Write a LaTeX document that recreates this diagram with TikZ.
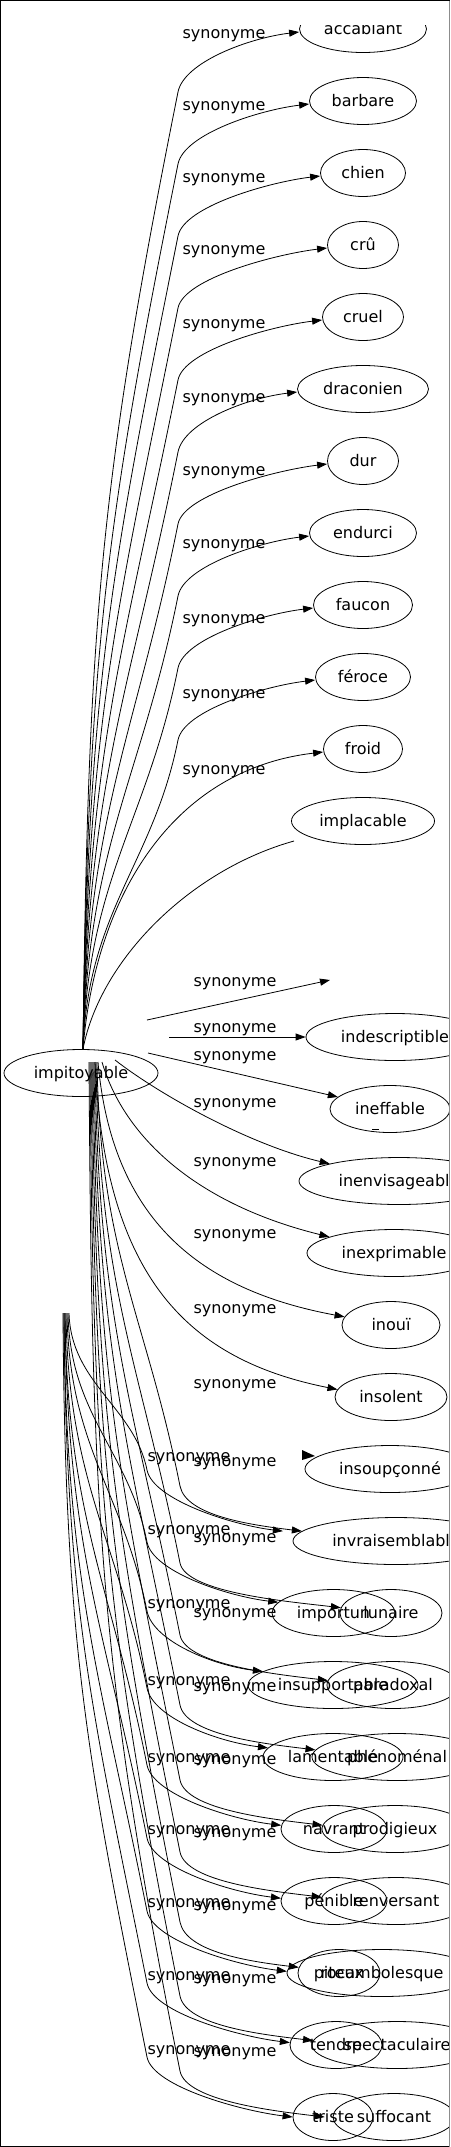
\documentclass[tikz,border=0pt]{standalone}
\usepackage{fontspec}
\setmainfont{DejaVu Sans}
\usetikzlibrary{arrows.meta,shapes.geometric}
\begin{document}
\begin{tikzpicture}[x=1pt,y=-1pt,
  every node/.style={font=\fontsize{16}{19}\selectfont, inner sep=0pt, text height=12pt, text depth=2pt},
  word/.style={draw, ellipse, line width=0.8pt, minimum height=47pt},
  edge/.style={line width=0.8pt, -{Triangle[length=10pt,width=7pt]}},
  plain/.style={line width=0.8pt}]
\useasboundingbox (0,0) rectangle (450,2147);
\fill[white] (0,0) rectangle (450,2147);
\begin{scope}
\clip (1,25) rectangle (449,2146);
% main node
\node[word, minimum width=154pt] (impitoyable) at (81,1073) {impitoyable};
% upper column
\foreach \n/\t/\y/\w in {accablant/accablant/29/127, barbare/barbare/101/107, chien/chien/173/85, cru/crû/245/71, cruel/cruel/317/81, draconien/draconien/389/131, dur/dur/461/71, endurci/endurci/533/107, faucon/faucon/605/99, feroce/féroce/677/95, froid/froid/749/79, implacable/implacable/821/143}
  \node[word, minimum width=\w pt] (\n) at (363,\y) {\t};
% lower column
\foreach \n/\t/\x/\y/\w in {indescriptible/indescriptible/395/1037/178, ineffable/ineffable/390/1109/120, inenvisageable/inenvisageable/399/1181/200, inexprimable/inexprimable/394/1253/174, inoui/inouï/391/1325/98, insolent/insolent/391/1397/112, insoupconne/insoupçonné/390/1469/170, invraisemblable/invraisemblable/396/1541/206, importun/importun/333.5/1613/123, lunaire/lunaire/391/1613/102, insupportable/insupportable/333/1685/170, paradoxal/paradoxal/393/1685/132, lamentable/lamentable/333/1757/140, phenomenal/phénoménal/397/1757/170, navrant/navrant/334/1829/106, prodigieux/prodigieux/395/1829/146, penible/pénible/334/1901/106, renversant/renversant/396/1901/150, piteux/piteux/339/1973/82, rocambolesque/rocambolesque/382/1973/190, tendre/tendre/336/2045/92, spectaculaire/spectaculaire/397/2045/170, triste/triste/333/2117/80, suffocant/suffocant/394/2117/122}
  \node[word, minimum width=\w pt] (\n) at (\x,\y) {\t};
% labels
\foreach \y [count=\i] in {33,105,177,249,323,397,470,543,618,693,769}
  \node (lu\i) at (224,\y) {synonyme};
\foreach \y [count=\i] in {981,1027,1055,1102,1161,1233,1308,1383,1461,1537,1612,1686,1759,1832,1905,1978,2051}
  \node (la\i) at (235,\y) {synonyme};
\foreach \y [count=\i] in {1456,1529,1603,1680,1757,1829,1902,1975,2049}
  \node (lb\i) at (189,\y) {synonyme};
% upper edges
\foreach \n/\yt in {accablant/32, barbare/104, chien/176, cru/248, cruel/320, draconien/392, dur/464, endurci/536, faucon/608, feroce/680}{
  \pgfmathsetmacro\ym{\yt+60}
  \pgfmathsetmacro\ca{1049-0.45*(1049-\ym)}
  \pgfmathsetmacro\cbx{178-0.08*(1049-\ym)}
  \pgfmathsetmacro\cby{\ym+0.4*(1049-\ym)}
  \draw[edge] ([xshift=2pt]impitoyable.north) .. controls (88,\ca) and (\cbx,\cby) .. (178,\ym) .. controls (184,\ym-30) and +(-50,6) .. ([yshift=-3pt]\n.west);
}
\draw[edge] ([xshift=2pt]impitoyable.north) .. controls (95,900) and (170,770) .. ([yshift=-3pt]froid.west);
\coordinate (implend) at (294,841);
\draw[plain] ([xshift=2pt]impitoyable.north) .. controls (100,960) and (190,870) .. (implend);
% straight floating edges
\coordinate (a0s) at (147,1020); \coordinate (a0e) at (330,980);
\draw[edge] (a0s) -- (a0e);
\coordinate (a1s) at (169,1037);
\draw[edge] (a1s) -- (indescriptible.west);
\coordinate (a2s) at (148,1053);
\draw[edge] (a2s) -- (ineffable.167);
\draw[plain] (372,1129) -- (379,1129);
% near lower edges
\draw[edge] ([shift={(34,-13)}]impitoyable.center) .. controls (160,1095) and (250,1145) .. (inenvisageable.166);
\draw[edge] ([shift={(21,-11)}]impitoyable.center) .. controls (125,1140) and (200,1205) .. (inexprimable.166);
\draw[edge] ([shift={(17,-11)}]impitoyable.center) .. controls (112,1220) and (200,1290) .. (inoui.170);
\draw[edge] ([shift={(14,-11)}]impitoyable.center) .. controls (105,1280) and (190,1360) .. (insolent.172);
% floating arrowhead
\fill (302,1450) -- (315,1456) -- (302,1460) -- cycle;
% group A lower edges
\coordinate (suftip) at ([xshift=-8pt]suffocant.west);
\foreach \s/\t/\yt in {97/invraisemblable.174/1531, 96/lunaire.174/1608, 95/paradoxal.176/1680, 94/phenomenal.175/1750, 93/prodigieux.177/1825, 92/renversant.177/1897, 91/piteux.172/1967, 90/spectaculaire.177/2041, 89/suftip/2116}{
  \pgfmathsetmacro\ym{\yt-45}
  \pgfmathsetmacro\L{\ym-1062}
  \pgfmathsetmacro\ca{1062+0.45*\L}
  \pgfmathsetmacro\cbx{180-0.08*\L}
  \pgfmathsetmacro\cby{\ym-0.4*\L}
  \pgfmathsetmacro\dx{\s-81}
  \draw[edge] ([shift={(\dx,-11)}]impitoyable.center) .. controls (\s+3,\ca) and (\cbx,\cby) .. (180,\ym) .. controls (186,\ym+30) and +(-50,-6) .. (\t);
}
% group B lower edges
\coordinate (ghost) at (66,1313);
\coordinate (invB) at ([xshift=-19pt]invraisemblable.174);
\foreach \s/\t/\yt in {69/invB/1530, 68/importun.169/1602, 67/insupportable.169/1671, 66/lamentable.172/1748, 65/navrant.176/1825, 65/penible.177/1898, 64/rocambolesque.179/1971, 64/tendre.177/2043, 63/triste.west/2117}{
  \pgfmathsetmacro\ym{\yt-60}
  \pgfmathsetmacro\L{\ym-1313}
  \pgfmathsetmacro\ca{1313+0.45*\L}
  \pgfmathsetmacro\cbx{147-0.08*\L}
  \pgfmathsetmacro\cby{\ym-0.4*\L}
  \pgfmathsetmacro\dx{\s-66}
  \draw[edge] ([xshift=\dx pt]ghost) .. controls (\s+2,\ca) and (\cbx,\cby) .. (147,\ym) .. controls (153,\ym+30) and +(-50,-6) .. (\t);
}
\end{scope}
\draw[line width=1pt] (449.5,0.5) -- (0.5,0.5) -- (0.5,2146.5) -- (449.5,2146.5);
\draw[line width=1pt, black!45] (449.5,0.5) -- (449.5,2146.5);
\end{tikzpicture}
\end{document}
